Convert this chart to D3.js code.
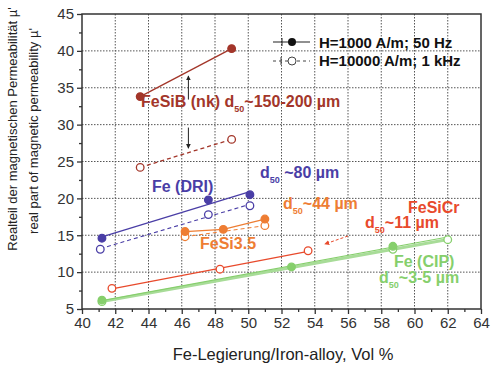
<!DOCTYPE html>
<html>
<head>
<meta charset="utf-8">
<script src="https://cdn.jsdelivr.net/npm/d3@7"></script>
<style>
  body { margin: 0; background: #fff; }
  svg { display: block; font-family: "Liberation Sans", Arial, sans-serif; }
</style>
</head>
<body>
<div id="chart"></div>
<script>
// -DATA- (Vol % Fe alloy, real part of permeability)
const xTicks = [40, 42, 44, 46, 48, 50, 52, 54, 56, 58, 60, 62, 64];
const yTicks = [5, 10, 15, 20, 25, 30, 35, 40, 45];

// filled = H=1000 A/m; 50 Hz, open = H=10000 A/m; 1 kHz
const fesibFilled = [[43.5, 33.8], [49.0, 40.3]];
const fesibOpen = [[43.5, 24.2], [49.0, 28.0]];
const driFilled = [[41.2, 14.6], [47.6, 19.8], [50.1, 20.5]];
const driOpen = [[41.1, 13.1], [47.6, 17.8], [50.1, 19.0]];
const fesi35Filled = [[46.2, 15.5], [48.5, 15.8], [51.0, 17.2]];
const fesi35Open = [[46.2, 14.8], [51.0, 16.3]];
const fesicrOpen = [[41.8, 7.8], [48.3, 10.4], [53.6, 12.9]];
const cipFilled = [[41.2, 6.2], [52.6, 10.7], [58.7, 13.5]];
const cipOpen = [[41.2, 6.0], [58.7, 13.1], [62.0, 14.4]];

// colours
const cFeSiB = "#a3362a";
const cDRI = "#4a3ea6";
const cFeSi35 = "#ee7d33";
const cFeSiCr = "#e84a2c";
const cCIP = "#86cf6c";

// -SIZES-
const svg_w = 491, svg_h = 366;
const padL = 82, padR = 481, padT = 14, padB = 309;

const xScale = d3.scaleLinear().domain([40, 64]).range([padL, padR]);
const yScale = d3.scaleLinear().domain([5, 45]).range([padB, padT]);

const svg = d3.select("#chart").append("svg")
  .attr("width", svg_w).attr("height", svg_h);

// grid
svg.append("g").selectAll("line").data(xTicks.slice(1, -1)).enter().append("line")
  .attr("x1", d => xScale(d)).attr("x2", d => xScale(d))
  .attr("y1", padT).attr("y2", padB)
  .attr("stroke", "#555").attr("stroke-width", 1).attr("stroke-dasharray", "1.5,1.5");
svg.append("g").selectAll("line").data(yTicks.slice(1, -1)).enter().append("line")
  .attr("y1", d => yScale(d)).attr("y2", d => yScale(d))
  .attr("x1", padL).attr("x2", padR)
  .attr("stroke", "#555").attr("stroke-width", 1).attr("stroke-dasharray", "1.5,1.5");

// axes
const xAxis = d3.axisBottom(xScale).tickValues(xTicks).tickSize(5).tickPadding(3).tickFormat(d3.format("d"));
const xMinor = d3.axisBottom(xScale).tickValues(d3.range(41, 64, 2)).tickSize(3).tickFormat("");
const yAxis = d3.axisLeft(yScale).tickValues(yTicks).tickSize(5).tickPadding(3).tickFormat(d3.format("d"));
const yMinor = d3.axisLeft(yScale).tickValues(d3.range(7.5, 45, 5)).tickSize(3).tickFormat("");

function styleAxis(g) {
  g.selectAll("path").remove();
  g.selectAll("line").attr("stroke", "#333").attr("stroke-width", 1.3);
  g.selectAll("text").attr("fill", "#333").attr("font-size", 15);
}
svg.append("g").attr("transform", `translate(0,${padB})`).call(xAxis).call(styleAxis);
svg.append("g").attr("transform", `translate(0,${padB})`).call(xMinor).call(styleAxis);
svg.append("g").attr("transform", `translate(${padL},0)`).call(yAxis).call(styleAxis);
svg.append("g").attr("transform", `translate(${padL},0)`).call(yMinor).call(styleAxis);

// frame
svg.append("rect").attr("x", padL).attr("y", padT)
  .attr("width", padR - padL).attr("height", padB - padT)
  .attr("fill", "none").attr("stroke", "#333").attr("stroke-width", 1.5);

// axis titles
svg.append("text").attr("x", 283).attr("y", 360)
  .attr("text-anchor", "middle").attr("font-size", 16.5).attr("fill", "#222")
  .text("Fe-Legierung/Iron-alloy, Vol %");
svg.append("text").attr("transform", "translate(17,129) rotate(-90)")
  .attr("text-anchor", "middle").attr("font-size", 13).attr("fill", "#222")
  .text("Realteil der magnetischen Permeabilität µ'");
svg.append("text").attr("transform", "translate(38,131) rotate(-90)")
  .attr("text-anchor", "middle").attr("font-size", 13).attr("fill", "#222")
  .text("real part of magnetic permeability µ'");

// -LINES-
const line = d3.line().x(d => xScale(d[0])).y(d => yScale(d[1]));

// least squares line over the x span of the points
function fit(pts, xEnd) {
  const mx = d3.mean(pts, d => d[0]), my = d3.mean(pts, d => d[1]);
  const sxy = d3.sum(pts, d => (d[0] - mx) * (d[1] - my));
  const sxx = d3.sum(pts, d => (d[0] - mx) ** 2);
  const b = sxy / sxx;
  const x0 = d3.min(pts, d => d[0]);
  const x1 = xEnd !== undefined ? xEnd : d3.max(pts, d => d[0]);
  return [[x0, my + b * (x0 - mx)], [x1, my + b * (x1 - mx)]];
}

function drawLine(pts, color, dashed, width) {
  svg.append("path").attr("d", line(pts))
    .attr("fill", "none").attr("stroke", color)
    .attr("stroke-width", width || 1.3)
    .attr("stroke-dasharray", dashed ? "4,3" : null);
}

function drawDots(pts, color, filled) {
  svg.append("g").selectAll("circle").data(pts).enter().append("circle")
    .attr("cx", d => xScale(d[0])).attr("cy", d => yScale(d[1]))
    .attr("r", 3.8)
    .attr("fill", filled ? color : "#fff")
    .attr("stroke", color).attr("stroke-width", 1.3);
}

// Fe (CIP) - light green band
drawLine(fit(cipOpen), "#a8dc98", false, 3);
drawLine(fit(cipFilled, 62), cCIP, false, 1.2);
drawDots(cipOpen, cCIP, false);
drawDots(cipFilled, cCIP, true);

// FeSiCr
drawLine(fit(fesicrOpen), cFeSiCr, false, 1.3);
drawDots(fesicrOpen, cFeSiCr, false);

// FeSi3.5
drawLine(fesi35Open, cFeSi35, true, 1);
drawLine(fesi35Filled, cFeSi35, false, 1.3);
drawDots(fesi35Open, cFeSi35, false);
drawDots(fesi35Filled, cFeSi35, true);

// Fe (DRI)
drawLine(fit(driOpen), cDRI, true, 1.1);
drawLine(fit(driFilled), cDRI, false, 1.3);
drawDots(driOpen, cDRI, false);
drawDots(driFilled, cDRI, true);

// FeSiB
drawLine(fesibOpen, cFeSiB, true, 1.3);
drawLine(fesibFilled, cFeSiB, false, 1.3);
drawDots(fesibOpen, cFeSiB, false);
drawDots(fesibFilled, cFeSiB, true);

// -ARROWS-
const defs = svg.append("defs");
function marker(id, color) {
  defs.append("marker").attr("id", id).attr("viewBox", "0 0 10 10")
    .attr("refX", 9).attr("refY", 5).attr("markerWidth", 5).attr("markerHeight", 5)
    .attr("orient", "auto")
    .append("path").attr("d", "M0,0 L10,5 L0,10 z").attr("fill", color);
}
marker("arrBlack", "#222");
marker("arrRed", cFeSiCr);

svg.append("line").attr("x1", xScale(46.4)).attr("x2", xScale(46.4))
  .attr("y1", yScale(33.4)).attr("y2", yScale(36.6))
  .attr("stroke", "#222").attr("stroke-width", 1).attr("marker-end", "url(#arrBlack)");
svg.append("line").attr("x1", xScale(46.4)).attr("x2", xScale(46.4))
  .attr("y1", yScale(29.6)).attr("y2", yScale(26.8))
  .attr("stroke", "#222").attr("stroke-width", 1).attr("marker-end", "url(#arrBlack)");

svg.append("line").attr("x1", xScale(56.0)).attr("y1", yScale(14.9))
  .attr("x2", xScale(54.6)).attr("y2", yScale(13.8))
  .attr("stroke", cFeSiCr).attr("stroke-width", 1).attr("stroke-dasharray", "3,2")
  .attr("marker-end", "url(#arrRed)");

// -LABELS-
function label(x, y, color, main, sub, rest) {
  const t = svg.append("text").attr("x", x).attr("y", y)
    .attr("font-size", 16).attr("font-weight", "bold").attr("fill", color);
  t.append("tspan").text(main);
  if (sub) {
    t.append("tspan").attr("font-size", 9).attr("dy", 5).text(sub);
    t.append("tspan").attr("dy", -5).text(rest);
  }
}
label(141, 107, cFeSiB, "FeSiB  (nk) d", "50", "~150-200 µm");
label(152, 192, cDRI, "Fe (DRI)");
label(260, 178, cDRI, "d", "50", " ~80 µm");
label(283, 209, cFeSi35, "d", "50", "~44 µm");
label(200, 249, cFeSi35, "FeSi3.5");
label(408, 213, cFeSiCr, "FeSiCr");
label(365, 228, cFeSiCr, "d", "50", "~11 µm");
label(394, 267, cCIP, "Fe (CIP)");
label(379, 283, cCIP, "d", "50", "~3-5 µm");

// -LEGEND-
const lg = svg.append("g");
lg.append("line").attr("x1", 273).attr("x2", 310).attr("y1", 42).attr("y2", 42)
  .attr("stroke", "#222").attr("stroke-width", 1.2);
lg.append("line").attr("x1", 282).attr("x2", 282).attr("y1", 38).attr("y2", 46)
  .attr("stroke", "#222").attr("stroke-width", 1);
lg.append("circle").attr("cx", 292).attr("cy", 42).attr("r", 4).attr("fill", "#111");
lg.append("line").attr("x1", 273).attr("x2", 310).attr("y1", 61).attr("y2", 61)
  .attr("stroke", "#444").attr("stroke-width", 1).attr("stroke-dasharray", "3,3");
lg.append("line").attr("x1", 281).attr("x2", 281).attr("y1", 57).attr("y2", 65)
  .attr("stroke", "#444").attr("stroke-width", 1);
lg.append("circle").attr("cx", 292).attr("cy", 61).attr("r", 4).attr("fill", "#fff")
  .attr("stroke", "#444").attr("stroke-width", 1);
lg.append("text").attr("x", 319).attr("y", 47.5).attr("font-size", 15)
  .attr("font-weight", "bold").attr("fill", "#111").text("H=1000 A/m; 50 Hz");
lg.append("text").attr("x", 319).attr("y", 66).attr("font-size", 15)
  .attr("font-weight", "bold").attr("fill", "#111").text("H=10000 A/m; 1 kHz");
</script>
</body>
</html>
